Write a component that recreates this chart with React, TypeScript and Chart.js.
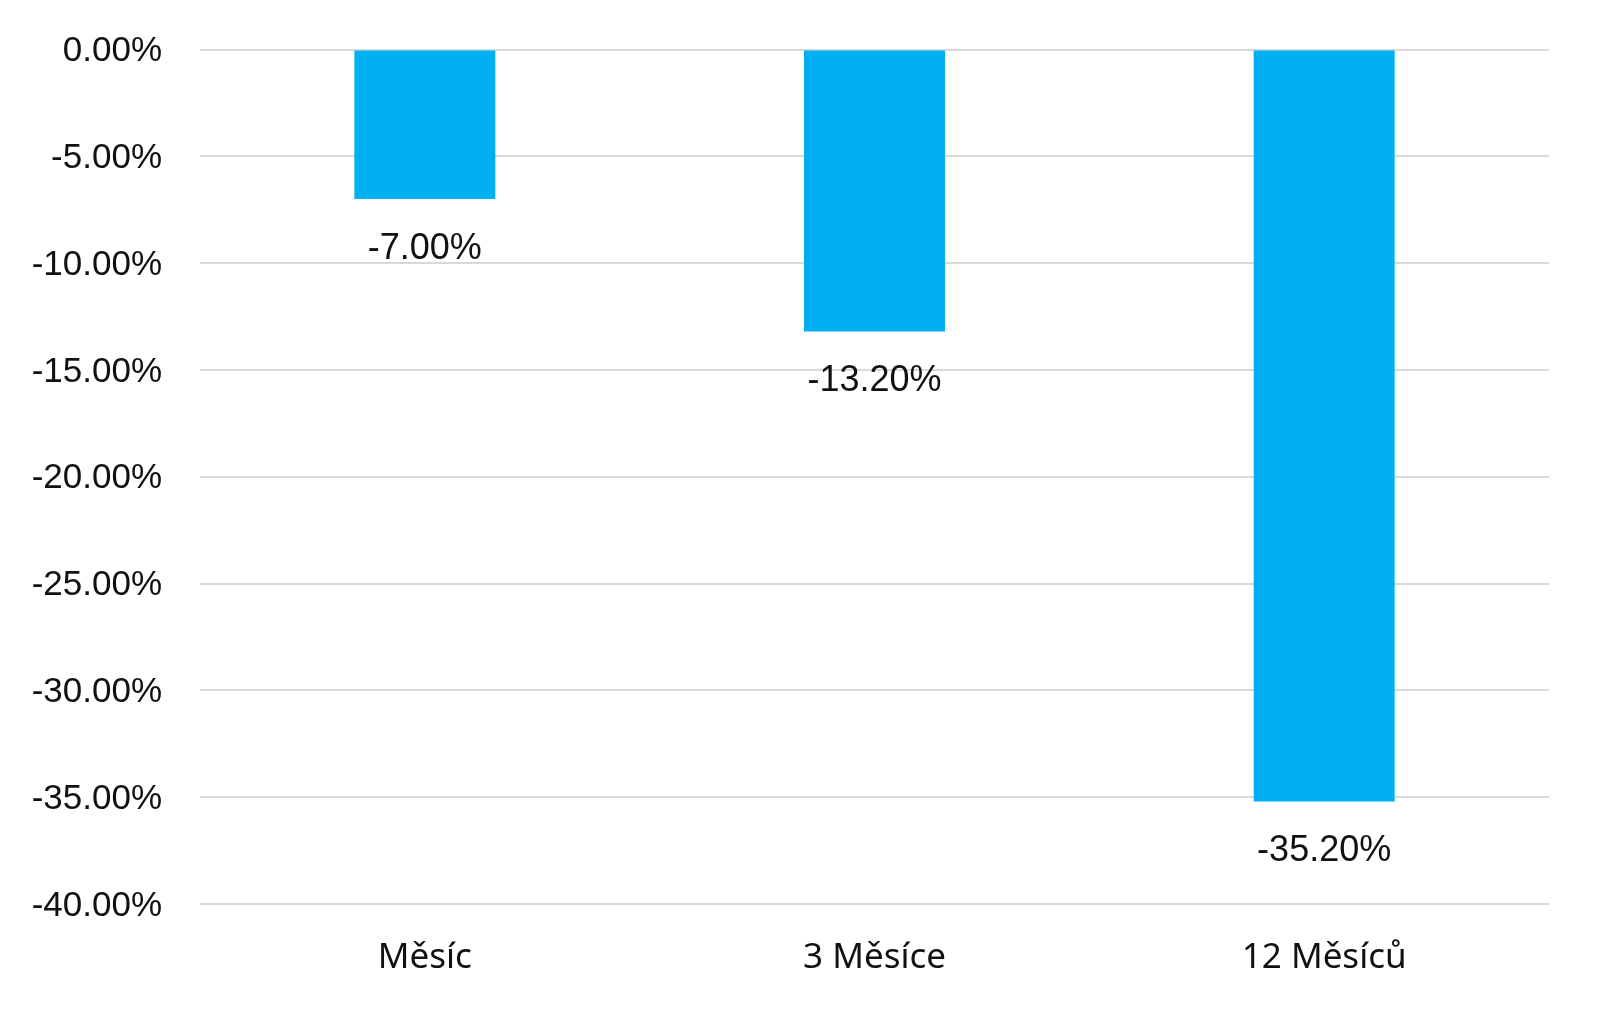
import React, { useEffect, useRef } from "react";
import { Chart, registerables } from "chart.js";

Chart.register(...registerables);

const categories = ["Měsíc", "3 Měsíce", "12 Měsíců"];
const values = [-7.0, -13.2, -35.2];
const yMin = -40;
const yMax = 0;
const yStep = 5;

const fmt = (v: number) => `${v.toFixed(2)}%`;

const valueLabels = {
  id: "valueLabels",
  afterDatasetsDraw(chart: any) {
    const ctx = chart.ctx;
    const meta = chart.getDatasetMeta(0);
    ctx.save();
    ctx.font = '36px "Liberation Sans", Arial, sans-serif';
    ctx.fillStyle = "#111111";
    ctx.textAlign = "center";
    ctx.textBaseline = "middle";
    meta.data.forEach((bar: any, i: number) => {
      const v = chart.data.datasets[0].data[i] as number;
      ctx.fillText(fmt(v), bar.x, bar.y + 50);
    });
    ctx.restore();
  },
};

export default function App() {
  const ref = useRef<HTMLCanvasElement | null>(null);
  useEffect(() => {
    if (!ref.current) return;
    const chart = new Chart(ref.current, {
      type: "bar",
      data: {
        labels: categories,
        datasets: [
          {
            data: values,
            backgroundColor: "#00B0F0",
            borderWidth: 0,
            barPercentage: 0.3135,
            categoryPercentage: 1,
          },
        ],
      },
      options: {
        animation: false,
        responsive: false,
        maintainAspectRatio: false,
        layout: { padding: { top: 49.5, right: 51, left: 0, bottom: 0 } },
        plugins: { legend: { display: false }, tooltip: { enabled: false } },
        scales: {
          x: {
            grid: { display: false, drawTicks: false },
            border: { display: false },
            ticks: {
              padding: 33,
              color: "#111111",
              font: { family: '"Noto Sans", sans-serif', size: 35 },
            },
            afterFit: (scale: any) => {
              scale.height = 105;
            },
          },
          y: {
            min: yMin,
            max: yMax,
            grid: { color: "#d9d9d9", lineWidth: 2, drawTicks: false },
            border: { display: false },
            ticks: {
              stepSize: yStep,
              padding: 38,
              labelOffset: 2,
              color: "#111111",
              font: { family: '"Liberation Sans", Arial, sans-serif', size: 35 },
              callback: (v: any) => fmt(Number(v)),
            },
            afterFit: (scale: any) => {
              scale.width = 200;
              scale.paddingTop = 0;
              scale.paddingBottom = 0;
            },
          },
        },
      },
      plugins: [valueLabels],
    });
    return () => chart.destroy();
  }, []);
  return (
    <div style={{ position: "absolute", left: 0, top: 0, width: 1600, height: 1009, background: "#fff" }}>
      <canvas ref={ref} width={1600} height={1009} style={{ width: 1600, height: 1009 }} />
    </div>
  );
}
